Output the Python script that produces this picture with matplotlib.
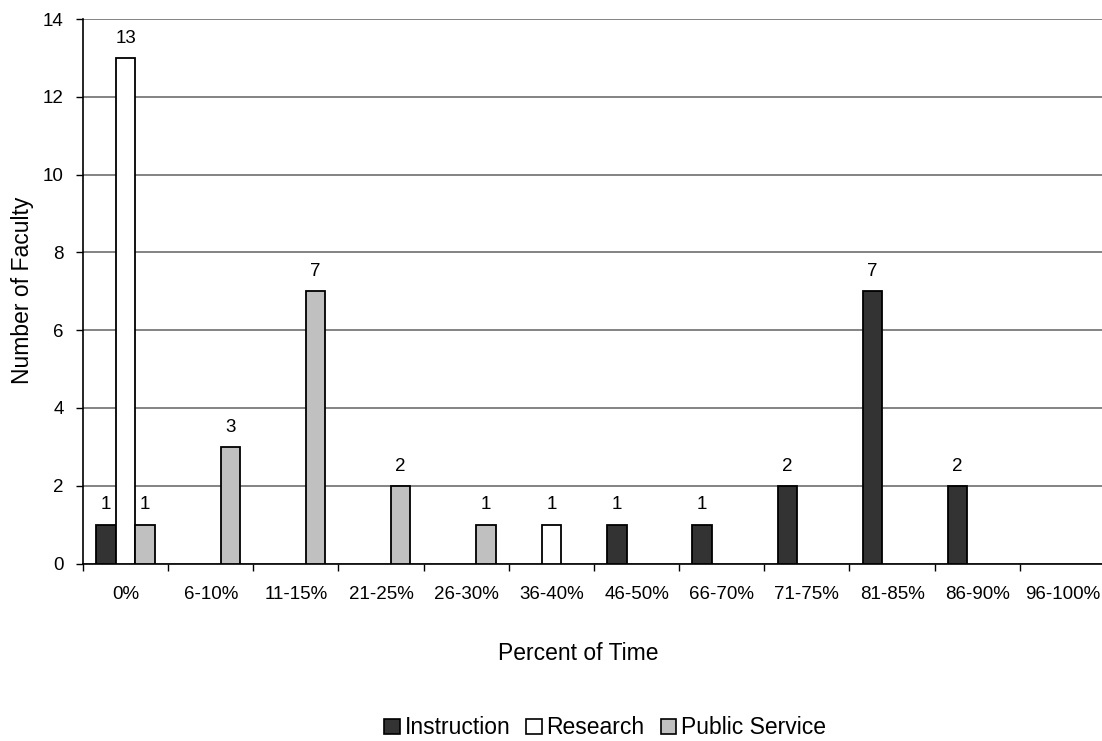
import matplotlib
matplotlib.use("Agg")
import matplotlib.pyplot as plt
from matplotlib.patches import Patch
import numpy as np

plt.rcParams['font.family'] = ['Liberation Sans', 'DejaVu Sans']

categories = ["0%", "6-10%", "11-15%", "21-25%", "26-30%", "36-40%",
              "46-50%", "66-70%", "71-75%", "81-85%", "86-90%", "96-100%"]
instruction = [1, 0, 0, 0, 0, 0, 1, 1, 2, 7, 2, 0]
research = [13, 0, 0, 0, 0, 1, 0, 0, 0, 0, 0, 0]
public_service = [1, 3, 7, 2, 1, 0, 0, 0, 0, 0, 0, 0]

series = [("Instruction", instruction, "#333333"),
          ("Research", research, "#ffffff"),
          ("Public Service", public_service, "#c0c0c0")]

W, H = 1102, 741
fig = plt.figure(figsize=(W / 100, H / 100), dpi=100)
ax = fig.add_axes([83 / W, 1 - 563.5 / H, (1105 - 83) / W, (563.5 - 19) / H])

x = np.arange(len(categories))
bw = 0.23
for k, (name, vals, col) in enumerate(series):
    pos = x + (k - 1) * bw
    for xi, v in zip(pos, vals):
        if v > 0:
            ax.bar(xi, v, width=bw, color=col, edgecolor="black",
                   linewidth=1.3, zorder=3)
            ax.annotate(str(v), (xi, v), xytext=(0, 8), textcoords="offset points",
                        ha="center", va="bottom", fontsize=13.5)

ax.set_xlim(-0.5, len(categories) - 0.5)
ax.set_ylim(0, 14)
ax.set_yticks(np.arange(0, 15, 2))
ax.yaxis.grid(True, color="#7a7a7a", linewidth=1.3, zorder=0)
ax.set_axisbelow(True)

ax.set_xticks(x)
ax.set_xticklabels(categories, fontsize=13.5)
ax.set_xticks(np.arange(-0.5, len(categories), 1.0), minor=True)
ax.tick_params(axis="x", which="major", length=0, pad=16)
ax.tick_params(axis="x", which="minor", length=5, width=1, color="black", direction="out")
ax.tick_params(axis="y", length=5, width=1, pad=9, labelsize=13.5, direction="out")

for s in ("top", "right"):
    ax.spines[s].set_visible(False)
for s in ("left", "bottom"):
    ax.spines[s].set_linewidth(1.2)
    ax.spines[s].set_color("black")

fig.text(23 / W, 1 - 290 / H, "Number of Faculty", rotation=90,
         ha="center", va="center", fontsize=16.5)
fig.text(578 / W, 1 - 654 / H, "Percent of Time", ha="center", va="center",
         fontsize=16.5)

handles = [Patch(facecolor=c, edgecolor="black", linewidth=1.2, label=n)
           for n, _, c in series]
fig.legend(handles=handles, loc="center", bbox_to_anchor=(605 / W, 1 - 728 / H),
           ncol=3, frameon=False, fontsize=16.5, handlelength=0.68,
           handleheight=0.68, handletextpad=0.2, columnspacing=0.7)

fig.savefig("out.png", dpi=100)
